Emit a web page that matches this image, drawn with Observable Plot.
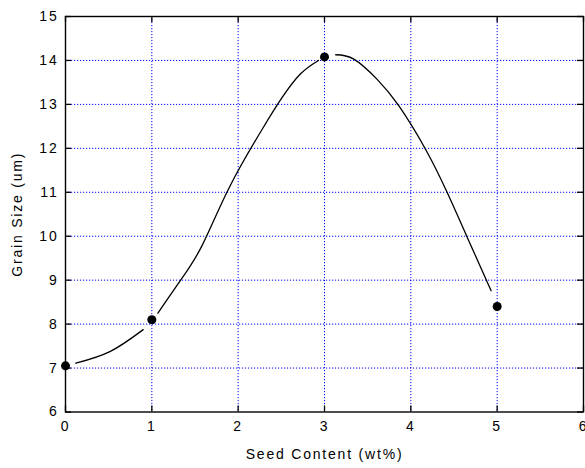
<!DOCTYPE html>
<html>
<head>
<meta charset="utf-8">
<script src="https://cdn.jsdelivr.net/npm/d3@7"></script>
<script src="https://cdn.jsdelivr.net/npm/@observablehq/plot@0.6"></script>
<style>
  html, body { margin: 0; padding: 0; background: #fff; }
  svg text { letter-spacing: 1.8px; }
</style>
</head>
<body>
<div id="chart"></div>
<script>
// Measured data points
const seedContent = [0, 1, 3, 5];
const grainSize = [7.05, 8.1, 14.08, 8.4];

// Fitted curve (three segments, gaps near markers)
const curveSegment = [1, 1, 1, 2, 2, 2, 2, 2, 2, 2, 2, 3, 3, 3, 3, 3, 3, 3, 3];
const curveX = [0.12, 0.52, 0.90, 1.07, 1.33, 1.58, 1.90, 2.28, 2.50, 2.72, 2.93, 3.13, 3.34, 3.61, 3.86, 4.17, 4.42, 4.65, 4.93];
const curveY = [7.11, 7.38, 7.875, 8.25, 8.99, 9.78, 11.12, 12.44, 13.13, 13.69, 14.0, 14.13, 14.03, 13.57, 12.97, 11.98, 11.0, 9.99, 8.76];

const xTicks = [0, 1, 2, 3, 4, 5, 6];
const yTicks = [6, 7, 8, 9, 10, 11, 12, 13, 14, 15];
const xGrid = [1, 2, 3, 4, 5];
const yGrid = [7, 8, 9, 10, 11, 12, 13, 14];

const points = seedContent.map((x, i) => ({x, y: grainSize[i]}));
const curve = curveX.map((x, i) => ({x, y: curveY[i], seg: curveSegment[i]}));

const W = 585, H = 468;
const mL = 65, mR = 2, mT = 16, mB = 56.5;
const innerH = H - mT - mB, innerW = W - mL - mR;
const tick = 6;

const chart = Plot.plot({
  width: W,
  height: H,
  marginLeft: mL,
  marginRight: mR,
  marginTop: mT,
  marginBottom: mB,
  style: {fontFamily: "'Liberation Sans', Arial, sans-serif", fontSize: "14px", color: "black", background: "white"},
  x: {domain: [0, 6]},
  y: {domain: [6, 15]},
  marks: [
    Plot.gridX(xGrid, {stroke: "#0000ff", strokeOpacity: 1, strokeDasharray: "1.2,1.8", strokeWidth: 1}),
    Plot.gridY(yGrid, {stroke: "#0000ff", strokeOpacity: 1, strokeDasharray: "1.2,1.8", strokeWidth: 1}),
    Plot.frame({stroke: "black", strokeWidth: 1.4}),
    // inward ticks on all four sides
    Plot.tickX(xTicks, {x: d => d, insetTop: innerH - tick, stroke: "black", strokeWidth: 1.3}),
    Plot.tickX(xTicks, {x: d => d, insetBottom: innerH - tick, stroke: "black", strokeWidth: 1.3}),
    Plot.tickY(yTicks, {y: d => d, insetRight: innerW - tick, stroke: "black", strokeWidth: 1.3}),
    Plot.tickY(yTicks, {y: d => d, insetLeft: innerW - tick, stroke: "black", strokeWidth: 1.3}),
    Plot.axisX(xTicks, {tickSize: 0, tickPadding: 9, label: "Seed Content (wt%)", labelAnchor: "center", labelArrow: "none", labelOffset: 47}),
    Plot.axisY(yTicks, {tickSize: 0, tickPadding: 7, label: "Grain Size (um)", labelAnchor: "center", labelArrow: "none", labelOffset: 53}),
    Plot.line(curve, {x: "x", y: "y", z: "seg", curve: "natural", stroke: "black", strokeWidth: 1.3}),
    Plot.dot(points, {x: "x", y: "y", r: 4.5, fill: "black", stroke: "none"})
  ]
});
document.getElementById("chart").appendChild(chart);
</script>
</body>
</html>
